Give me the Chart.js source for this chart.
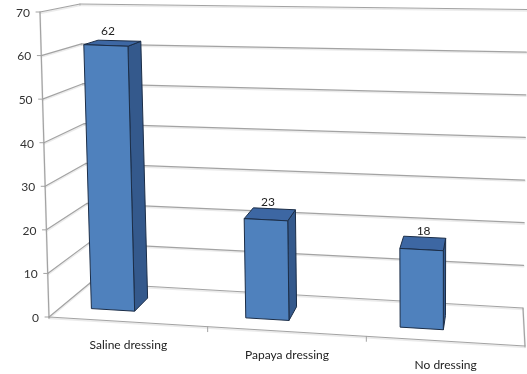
<!DOCTYPE html>
<html>
<head>
<meta charset="utf-8">
<script src="https://cdn.jsdelivr.net/npm/chart.js@4.4.1/dist/chart.umd.min.js"></script>
<style>
  body { margin: 0; background: #fff; }
  #wrap { width: 527px; height: 374px; }
</style>
</head>
<body>
<div id="wrap"><canvas id="chart"></canvas></div>
<script>
// Data
const categories = ["Saline dressing", "Papaya dressing", "No dressing"];
const values = [62, 23, 18];
const yTicks = [0, 10, 20, 30, 40, 50, 60, 70];

// Corners of the 3D box as seen in the picture (front and back planes)
const FRONT = { lb: [49, 317], rb: [525, 346], lt: [40, 12], rt: [526, 32] };
const BACK = { lb: [90, 283], rb: [523, 308], lt: [80, 4], rt: [527, 9.5] };
const BAR_FRONT = 0.3, BAR_BACK = 0.68; // depth of the columns
const BAR_SHIFT = -0.055; // columns sit a bit left of their category slot

const FONT = "12px Lato, 'Open Sans', sans-serif";

function lerp(a, b, k) {
  return [a[0] + (b[0] - a[0]) * k, a[1] + (b[1] - a[1]) * k];
}
function plane(q, s, t) {
  return lerp(lerp(q.lb, q.rb, s), lerp(q.lt, q.rt, s), t);
}
// s: along categories 0..1, t: value 0..1, d: depth 0 (front) .. 1 (back)
function project(s, t, d) {
  return lerp(plane(FRONT, s, t), plane(BACK, s, t), d);
}

function sOf(xs, px) { return (px - xs.left) / (xs.right - xs.left); }
function tOf(ys, py) { return (ys.bottom - py) / (ys.bottom - ys.top); }

function line(ctx, a, b) {
  ctx.beginPath();
  ctx.moveTo(a[0], a[1]);
  ctx.lineTo(b[0], b[1]);
  ctx.stroke();
}
function gridLine(ctx, a, b) {
  // soft shadow first, then the grey line
  ctx.strokeStyle = "rgba(0,0,0,0.08)";
  ctx.lineWidth = 2;
  line(ctx, [a[0], a[1] + 1.2], [b[0], b[1] + 1.2]);
  ctx.strokeStyle = "#a3a3a3";
  ctx.lineWidth = 1.2;
  line(ctx, a, b);
}
function poly(ctx, pts, fill) {
  ctx.beginPath();
  ctx.moveTo(pts[0][0], pts[0][1]);
  pts.slice(1).forEach((p) => ctx.lineTo(p[0], p[1]));
  ctx.closePath();
  ctx.fillStyle = fill;
  ctx.fill();
  ctx.strokeStyle = "#1b2d47";
  ctx.lineWidth = 1;
  ctx.stroke();
}

const box3d = {
  id: "box3d",
  beforeDatasetsDraw(chart) {
    const ctx = chart.ctx;
    const xs = chart.scales.x, ys = chart.scales.y;
    ctx.save();
    ctx.lineCap = "round";

    // walls: side wall and back wall gridlines
    yTicks.forEach((v) => {
      const t = tOf(ys, ys.getPixelForValue(v));
      gridLine(ctx, project(0, t, 0), project(0, t, 1));
      gridLine(ctx, project(0, t, 1), project(1, t, 1));
    });

    // floor outline
    gridLine(ctx, project(0, 0, 0), project(1, 0, 0));
    gridLine(ctx, project(1, 0, 0), project(1, 0, 1));

    // value axis
    gridLine(ctx, project(0, 0, 0), project(0, 1, 0));

    // category tick marks between slots
    ctx.strokeStyle = "#a3a3a3";
    ctx.lineWidth = 1;
    for (let i = 0; i < categories.length - 1; i++) {
      const px = (xs.getPixelForValue(i) + xs.getPixelForValue(i + 1)) / 2;
      const p = project(sOf(xs, px), 0, 0);
      line(ctx, p, [p[0], p[1] + 5]);
    }

    // value labels and ticks
    ctx.font = FONT;
    ctx.fillStyle = "#333";
    ctx.textAlign = "right";
    ctx.textBaseline = "middle";
    yTicks.forEach((v) => {
      const p = project(0, tOf(ys, ys.getPixelForValue(v)), 0);
      ctx.strokeStyle = "#a3a3a3";
      line(ctx, [p[0] - 4, p[1]], p);
      ctx.fillText(String(v), p[0] - 10, p[1] + 1);
    });
    ctx.restore();
  },
  afterDatasetsDraw(chart) {
    const ctx = chart.ctx;
    const xs = chart.scales.x, ys = chart.scales.y;
    const meta = chart.getDatasetMeta(0);
    ctx.save();
    ctx.lineJoin = "round";

    meta.data.forEach((bar, i) => {
      const { x, y, base, width } = bar.getProps(["x", "y", "base", "width"], true);
      const s0 = sOf(xs, x - width / 2) + BAR_SHIFT;
      const s1 = sOf(xs, x + width / 2) + BAR_SHIFT;
      const t0 = tOf(ys, base), t1 = tOf(ys, y);
      const f = BAR_FRONT, b = BAR_BACK;

      // right side face
      poly(ctx, [project(s1, t0, f), project(s1, t0, b), project(s1, t1, b), project(s1, t1, f)], "#34598c");
      // top face
      poly(ctx, [project(s0, t1, f), project(s1, t1, f), project(s1, t1, b), project(s0, t1, b)], "#3d67a3");
      // front face
      poly(ctx, [project(s0, t0, f), project(s1, t0, f), project(s1, t1, f), project(s0, t1, f)], "#4f81bd");

      // value label above the column
      const top = project((s0 + s1) / 2, t1, (f + b) / 2);
      const front = project((s0 + s1) / 2, t1, f);
      ctx.font = FONT;
      ctx.fillStyle = "#222";
      ctx.textAlign = "center";
      ctx.textBaseline = "middle";
      ctx.fillText(String(values[i]), front[0] + 2, top[1] - 12);

      // category label below the front edge of the floor
      const c = project(sOf(xs, x), 0, 0);
      ctx.fillStyle = "#222";
      ctx.fillText(categories[i], c[0], c[1] + 23.5);
    });
    ctx.restore();
  }
};

new Chart(document.getElementById("chart"), {
  type: "bar",
  data: {
    labels: categories,
    datasets: [
      {
        data: values,
        backgroundColor: "rgba(0,0,0,0)",
        borderWidth: 0,
        barPercentage: 0.28,
        categoryPercentage: 1
      }
    ]
  },
  options: {
    responsive: true,
    maintainAspectRatio: false,
    animation: false,
    layout: { padding: 0 },
    plugins: { legend: { display: false }, tooltip: { enabled: false } },
    scales: {
      x: { display: false, offset: true, grid: { display: false } },
      y: { display: false, min: 0, max: 70, ticks: { stepSize: 10 }, grid: { display: false } }
    }
  },
  plugins: [box3d]
});
</script>
</body>
</html>
